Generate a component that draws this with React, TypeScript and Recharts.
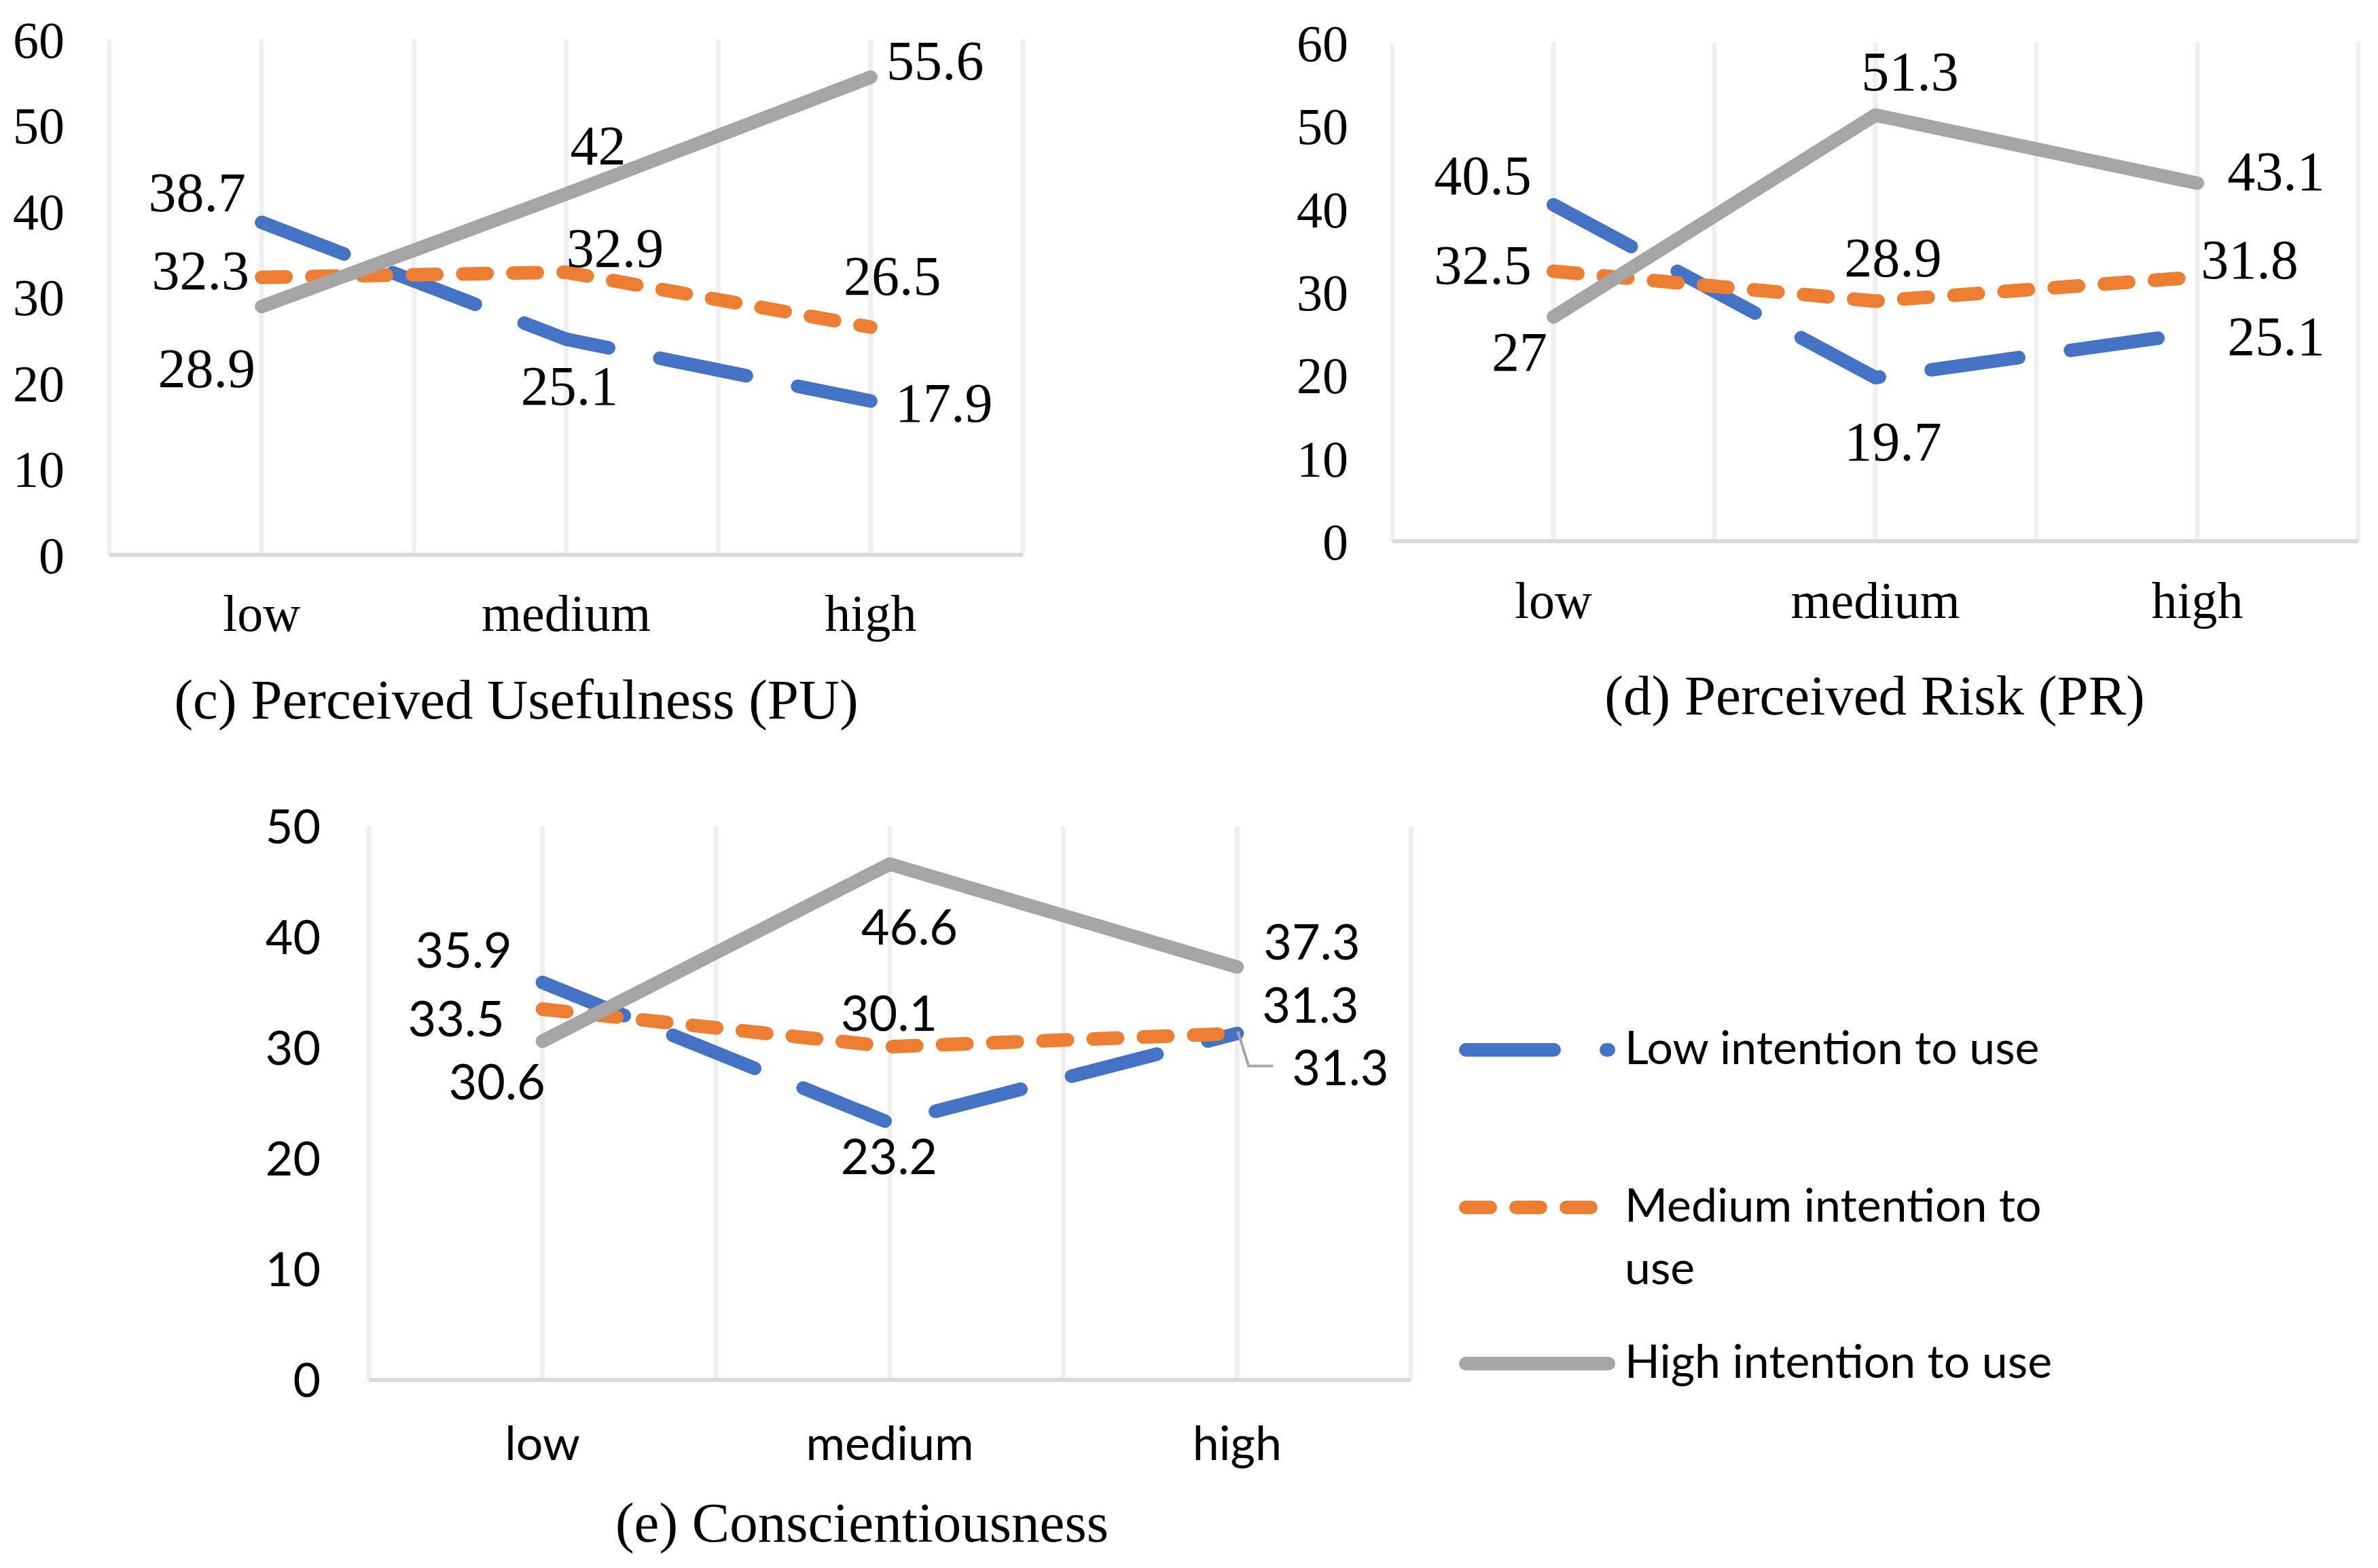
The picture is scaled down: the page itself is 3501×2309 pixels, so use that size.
import { CartesianGrid, LabelList, Line, LineChart, XAxis, YAxis } from "recharts"

const categories = ["low", "medium", "high"]
const seriesKeys = ["low", "medium", "high"]
const seriesNames = ["Low intention to use", "Medium intention to use", "High intention to use"]

// (c) Perceived Usefulness
const puLow = [38.7, 25.1, 17.9]
const puMedium = [32.3, 32.9, 26.5]
const puHigh = [28.9, 42, 55.6]

// (d) Perceived Risk
const prLow = [40.5, 19.7, 25.1]
const prMedium = [32.5, 28.9, 31.8]
const prHigh = [27, 51.3, 43.1]

// (e) Conscientiousness
const coLow = [35.9, 23.2, 31.3]
const coMedium = [33.5, 30.1, 31.3]
const coHigh = [30.6, 46.6, 37.3]

const ticks60 = [0, 10, 20, 30, 40, 50, 60]
const ticks50 = [0, 10, 20, 30, 40, 50]
// half-category steps -> grid lines at edges, centres and midpoints
const xTicks = [-0.5, 0, 0.5, 1, 1.5, 2, 2.5]

// hand placed data label offsets (px from the point), like the Excel original
const puOffsets = {
  low: [[-95, -45], [5, 68], [108, 2]],
  medium: [[-90, -11], [72, -37], [32, -76]],
  high: [[-81, 90], [47, -72], [95, -25]],
}
const prOffsets = {
  low: [[-104, -44], [26, 93], [116, 4]],
  medium: [[-104, -10], [26, -65], [77, -27]],
  high: [[-50, 51], [51, -65], [116, -18]],
}
const coOffsets = {
  low: [[-116, -47], [-1, 50], [152, 51]],
  medium: [[-127, 15], [-1, -49], [108, -41]],
  high: [[-67, 61], [29, 93], [110, -36]],
}

const SERIF = '"Liberation Serif", "Times New Roman", serif'
const SANS = 'Lato, "Noto Sans", sans-serif'

const colors: Record<string, string> = { low: "#4472C4", medium: "#ED7D31", high: "#A5A5A5" }
const dashes: Record<string, string | undefined> = { low: "130 77", medium: "36 38", high: undefined }

const toRows = (low: number[], medium: number[], high: number[]) =>
  categories.map((_, i) => ({ x: i, low: low[i], medium: medium[i], high: high[i] }))

type PanelProps = {
  left: number
  top: number
  width: number
  height: number
  marginTop: number
  marginRight: number
  yAxisWidth: number
  xAxisHeight: number
  yTicks: number[]
  yTickMargin: number
  xTickMargin: number
  rows: any[]
  offsets: Record<string, number[][]>
  font: string
  tickSize: number
  labelSize: number
  leader?: { key: string; index: number }
}

function Panel(p: PanelProps) {
  const tickStyle = { fill: "#000", fontSize: p.tickSize, fontFamily: p.font }
  const renderLabel = (key: string) => (props: any) => {
    const { x, y, value, index } = props
    const [dx, dy] = p.offsets[key][index]
    const hasLeader = p.leader && p.leader.key === key && p.leader.index === index
    return (
      <g>
        {hasLeader && (
          <polyline
            points={`${x + 1},${y - 3} ${x + 17},${y + 48} ${x + 53},${y + 48}`}
            fill="none"
            stroke="#A6A6A6"
            strokeWidth={4}
          />
        )}
        <text
          x={x + dx}
          y={y + dy}
          dy="0.35em"
          textAnchor="middle"
          fontSize={p.labelSize}
          fontFamily={p.font}
          fill="#000"
        >
          {value}
        </text>
      </g>
    )
  }

  return (
    <div style={{ position: "absolute", left: p.left, top: p.top }}>
      <LineChart
        width={p.width}
        height={p.height}
        data={p.rows}
        margin={{ top: p.marginTop, right: p.marginRight, left: 0, bottom: 0 }}
      >
        <CartesianGrid horizontal={false} stroke="#EFEFEF" strokeWidth={7} />
        <XAxis
          type="number"
          dataKey="x"
          domain={[-0.5, 2.5]}
          ticks={xTicks}
          interval={0}
          tickFormatter={(v: number) => (Number.isInteger(v) ? categories[v] : "")}
          axisLine={{ stroke: "#D9D9D9", strokeWidth: 6 }}
          tickLine={false}
          tickSize={0}
          tickMargin={p.xTickMargin}
          height={p.xAxisHeight}
          tick={tickStyle}
        />
        <YAxis
          domain={[0, p.yTicks[p.yTicks.length - 1]]}
          ticks={p.yTicks}
          interval={0}
          axisLine={false}
          tickLine={false}
          tickSize={0}
          tickMargin={p.yTickMargin}
          width={p.yAxisWidth}
          tick={tickStyle}
        />
        {seriesKeys.map((k) => (
          <Line
            key={k}
            type="linear"
            dataKey={k}
            stroke={colors[k]}
            strokeWidth={20}
            strokeDasharray={dashes[k]}
            strokeLinecap="round"
            strokeLinejoin="round"
            dot={false}
            activeDot={false}
            isAnimationActive={false}
          >
            <LabelList dataKey={k} content={renderLabel(k)} />
          </Line>
        ))}
      </LineChart>
    </div>
  )
}

function Legend() {
  const rows = [
    { key: "low", lineY: 1546, lines: [seriesNames[0]], baseline: 1567 },
    { key: "medium", lineY: 1778, lines: ["Medium intention to", "use"], baseline: 1799 },
    { key: "high", lineY: 2008, lines: [seriesNames[2]], baseline: 2029 },
  ]
  return (
    <>
      {rows.map((r) => (
        <g key={r.key}>
          <line
            x1={2158}
            x2={2368}
            y1={r.lineY}
            y2={r.lineY}
            stroke={colors[r.key]}
            strokeWidth={20}
            strokeDasharray={dashes[r.key]}
            strokeLinecap="round"
          />
          <text x={2392} y={r.baseline} fontSize={68} fontFamily={SANS} fill="#000">
            {r.lines.map((t, i) => (
              <tspan key={i} x={2392} dy={i === 0 ? 0 : 92}>
                {t}
              </tspan>
            ))}
          </text>
        </g>
      ))}
    </>
  )
}

export default function App() {
  return (
    <div style={{ position: "absolute", left: 0, top: 0, width: 3501, height: 2309, background: "#fff" }}>
      <Panel
        left={0}
        top={0}
        width={1560}
        height={1000}
        marginTop={58}
        marginRight={54}
        yAxisWidth={161}
        xAxisHeight={183}
        yTicks={ticks60}
        yTickMargin={66}
        xTickMargin={58}
        rows={toRows(puLow, puMedium, puHigh)}
        offsets={puOffsets}
        font={SERIF}
        tickSize={76}
        labelSize={82}
      />
      <Panel
        left={1760}
        top={0}
        width={1741}
        height={1000}
        marginTop={63}
        marginRight={29}
        yAxisWidth={290}
        xAxisHeight={203}
        yTicks={ticks60}
        yTickMargin={65}
        xTickMargin={59}
        rows={toRows(prLow, prMedium, prHigh)}
        offsets={prOffsets}
        font={SERIF}
        tickSize={76}
        labelSize={82}
      />
      <Panel
        left={0}
        top={1100}
        width={2100}
        height={1100}
        marginTop={117}
        marginRight={23}
        yAxisWidth={543}
        xAxisHeight={168}
        yTicks={ticks50}
        yTickMargin={71}
        xTickMargin={68}
        rows={toRows(coLow, coMedium, coHigh)}
        offsets={coOffsets}
        font={SANS}
        tickSize={70}
        labelSize={72}
        leader={{ key: "low", index: 2 }}
      />
      <svg
        width={3501}
        height={2309}
        style={{ position: "absolute", left: 0, top: 0, pointerEvents: "none" }}
      >
        <text x={760} y={1058} textAnchor="middle" fontSize={83} fontFamily={SERIF} fill="#000">
          (c) Perceived Usefulness (PU)
        </text>
        <text x={2760} y={1052} textAnchor="middle" fontSize={83} fontFamily={SERIF} fill="#000">
          (d) Perceived Risk (PR)
        </text>
        <text x={1269} y={2270} textAnchor="middle" fontSize={83} fontFamily={SERIF} fill="#000">
          (e) Conscientiousness
        </text>
        <Legend />
      </svg>
    </div>
  )
}
